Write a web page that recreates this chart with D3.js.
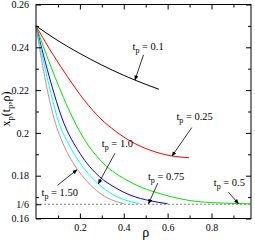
<!DOCTYPE html>
<html>
<head>
<meta charset="utf-8">
<script src="https://cdn.jsdelivr.net/npm/d3@7"></script>
<style>
  body { margin: 0; background: #fff; }
  svg, svg text { font-family: "Liberation Serif", "Times New Roman", "DejaVu Serif", serif !important; }
</style>
</head>
<body>
<svg id="chart" width="255" height="240"></svg>
<script>
// values, one pair of arrays per t_p
const rho01 = [0, 0.1, 0.2, 0.3, 0.4, 0.5, 0.56];
const x01 = [0.25, 0.2431, 0.2371, 0.2317, 0.2269, 0.2227, 0.2204];
const rho025 = [0, 0.06, 0.144, 0.22, 0.296, 0.36, 0.433, 0.524, 0.615, 0.698];
const x025 = [0.25, 0.2395, 0.2262, 0.2153, 0.2065, 0.201, 0.196, 0.1918, 0.1893, 0.1884];
const rho05 = [0, 0.068, 0.144, 0.22, 0.3, 0.43, 0.58, 0.73, 0.88, 0.98];
const x05 = [0.25, 0.231, 0.2121, 0.197, 0.1865, 0.177, 0.1712, 0.168, 0.1671, 0.1668];
const rho075 = [0, 0.068, 0.118, 0.2, 0.29, 0.36, 0.433, 0.52, 0.6];
const x075 = [0.25, 0.2235, 0.207, 0.1905, 0.1795, 0.1745, 0.1708, 0.1683, 0.1669];
const rho10 = [0, 0.068, 0.099, 0.15, 0.2, 0.284, 0.35, 0.41, 0.47];
const x10 = [0.25, 0.2185, 0.2065, 0.1945, 0.186, 0.1762, 0.1712, 0.1685, 0.167];
const rho15 = [0, 0.04, 0.083, 0.13, 0.19, 0.25, 0.3, 0.35, 0.4];
const x15 = [0.25, 0.226, 0.2065, 0.1935, 0.1828, 0.1755, 0.1712, 0.1685, 0.1669];

const curveColors = ["#000000", "#ff0000", "#00e600", "#0000ff", "#00ffff", "#bc8f8f"];

const yMajor = [0.16, 0.18, 0.2, 0.22, 0.24, 0.26];
const yMinor = [0.17, 0.19, 0.21, 0.23, 0.25];
const xMajor = [0.2, 0.4, 0.6, 0.8];
const xMinor = [0.1, 0.3, 0.5, 0.7, 0.9];
const limit = 1 / 6;

// label text, arrow tail, arrow head on the curve, text position
const notes = [
  { t: "0.1",  tail: [0.49, 0.2365],  at: [0.451, 0.2247], text: [0.44, 0.2387] },
  { t: "0.25", tail: [0.71, 0.2025],  at: [0.62, 0.1892],  text: [0.64, 0.206] },
  { t: "1.0",  tail: [0.36, 0.1905],  at: [0.284, 0.1762], text: [0.30, 0.1935] },
  { t: "0.75", tail: [0.555, 0.1765], at: [0.513, 0.1669], text: [0.51, 0.178] },
  { t: "0.5",  tail: [0.877, 0.1723], at: [0.923, 0.1669], text: [0.81, 0.175] },
  { t: "1.50", tail: [0.098, 0.1755], at: [0.187, 0.1828], text: [0.025, 0.1703] }
];

const svg = d3.select("#chart")
    .attr("font-family", "Liberation Serif, Times New Roman, serif");
const x = d3.scaleLinear().domain([0, 0.98]).range([36, 251]);
const y = d3.scaleLinear().domain([0.16, 0.26]).range([218.5, 4.5]);

const defs = svg.append("defs");
defs.append("marker")
    .attr("id", "head")
    .attr("viewBox", "0 0 10 10")
    .attr("refX", 9).attr("refY", 5)
    .attr("markerWidth", 5).attr("markerHeight", 5)
    .attr("markerUnits", "userSpaceOnUse")
    .attr("orient", "auto")
  .append("path")
    .attr("d", "M0,1 L10,5 L0,9 Z")
    .attr("fill", "#000");

// dashed 1/6 line
svg.append("line")
    .attr("x1", x(0)).attr("x2", x(0.98))
    .attr("y1", y(limit)).attr("y2", y(limit))
    .attr("stroke", "#888").attr("stroke-width", 1.2)
    .attr("stroke-dasharray", "2,2");

const line = d3.line()
    .x(d => x(d[0]))
    .y(d => y(d[1]))
    .curve(d3.curveMonotoneX);

const series = [[rho01, x01], [rho025, x025], [rho05, x05], [rho075, x075], [rho10, x10], [rho15, x15]];
series.forEach(([r, v], i) => {
    svg.append("path")
        .datum(d3.zip(r, v))
        .attr("d", line)
        .attr("fill", "none")
        .attr("stroke", curveColors[i])
        .attr("stroke-width", 1);
});

// axes, ticks pointing inward on all four sides
const fmtY = d => d === limit ? "1/6" : String(+d.toFixed(2));
const axisStyle = g => {
    g.attr("font-family", null);
    g.select(".domain").remove();
    g.selectAll("line").attr("stroke", "#000");
    g.selectAll("text").attr("font-size", 10).attr("fill", "#000");
};

svg.append("g").attr("transform", `translate(${x(0)},0)`)
    .call(d3.axisLeft(y).tickValues(yMajor.concat([limit])).tickSize(-5).tickPadding(7).tickFormat(fmtY))
    .call(axisStyle);
svg.append("g").attr("transform", `translate(${x(0)},0)`)
    .call(d3.axisLeft(y).tickValues(yMinor).tickSize(-3).tickFormat(""))
    .call(axisStyle);
svg.append("g").attr("transform", `translate(${x(0.98)},0)`)
    .call(d3.axisRight(y).tickValues(yMajor).tickSize(-5).tickFormat(""))
    .call(axisStyle);
svg.append("g").attr("transform", `translate(${x(0.98)},0)`)
    .call(d3.axisRight(y).tickValues(yMinor).tickSize(-3).tickFormat(""))
    .call(axisStyle);
svg.append("g").attr("transform", `translate(0,${y(0.16)})`)
    .call(d3.axisBottom(x).tickValues(xMajor).tickSize(-5).tickPadding(5).tickFormat(d => String(d)))
    .call(axisStyle);
svg.append("g").attr("transform", `translate(0,${y(0.16)})`)
    .call(d3.axisBottom(x).tickValues(xMinor).tickSize(-3).tickFormat(""))
    .call(axisStyle);
svg.append("g").attr("transform", `translate(0,${y(0.26)})`)
    .call(d3.axisTop(x).tickValues(xMajor).tickSize(-5).tickFormat(""))
    .call(axisStyle);
svg.append("g").attr("transform", `translate(0,${y(0.26)})`)
    .call(d3.axisTop(x).tickValues(xMinor).tickSize(-3).tickFormat(""))
    .call(axisStyle);

// frame
svg.append("rect")
    .attr("x", x(0)).attr("y", y(0.26))
    .attr("width", x(0.98) - x(0)).attr("height", y(0.16) - y(0.26))
    .attr("fill", "none").attr("stroke", "#000").attr("stroke-width", 1);

// annotations
notes.forEach(n => {
    svg.append("line")
        .attr("x1", x(n.tail[0])).attr("y1", y(n.tail[1]))
        .attr("x2", x(n.at[0])).attr("y2", y(n.at[1]))
        .attr("stroke", "#000").attr("stroke-width", 0.8)
        .attr("marker-end", "url(#head)");
    const t = svg.append("text")
        .attr("x", x(n.text[0])).attr("y", y(n.text[1]))
        .attr("font-size", 10.5).attr("fill", "#000");
    t.append("tspan").text("t");
    t.append("tspan").attr("dy", 3).attr("font-size", 8).text("p");
    t.append("tspan").attr("dy", -3).text(" = " + n.t);
});

// axis titles
svg.append("text")
    .attr("x", x(0.5)).attr("y", 237)
    .attr("text-anchor", "middle")
    .attr("font-size", 14)
    .text("ρ");

const yt = svg.append("text")
    .attr("transform", "translate(10,109) rotate(-90)")
    .attr("text-anchor", "middle")
    .attr("font-size", 12);
yt.append("tspan").text("x");
yt.append("tspan").attr("dy", 3).attr("font-size", 8.5).text("p");
yt.append("tspan").attr("dy", -3).text("(t");
yt.append("tspan").attr("dy", 3).attr("font-size", 8.5).text("p");
yt.append("tspan").attr("dy", -3).text(",ρ)");
</script>
</body>
</html>
